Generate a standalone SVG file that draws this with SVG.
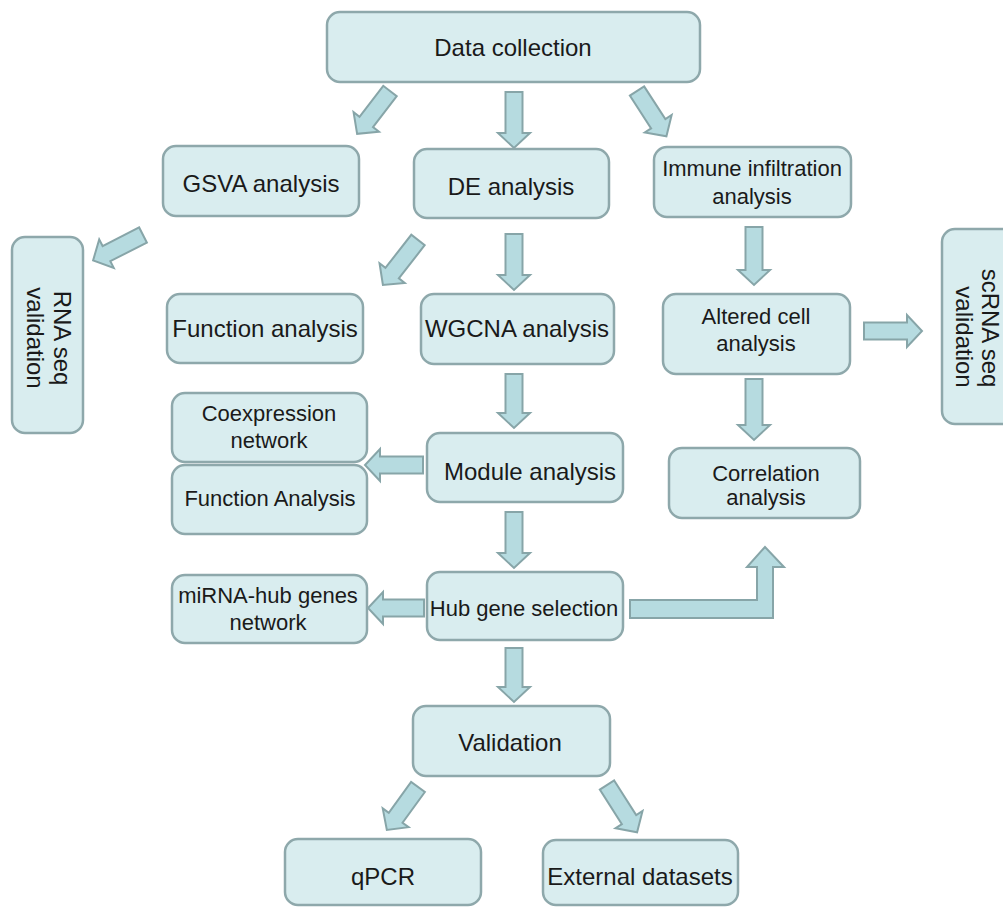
<svg xmlns="http://www.w3.org/2000/svg" width="1003" height="907" viewBox="0 0 1003 907">
<style>
.n{fill:#d9edef;stroke:#8ea8ab;stroke-width:2.5}
.a{fill:#b6dbe0;stroke:#87a5a8;stroke-width:2;stroke-linejoin:miter}
text{font-family:"Liberation Sans",Arial,sans-serif;font-size:24px;fill:#1a1a1a;text-anchor:middle}
.s22{font-size:22px}
</style>
<rect width="1003" height="907" fill="#ffffff"/>
<g id="connectors">
<path class="a" transform="translate(390,91) rotate(127.5)" d="M0,-8.5 H39 V-16 L54,0 L39,16 V8.5 H0 Z"/>
<path class="a" transform="translate(514,92) rotate(90)" d="M0,-8.5 H41 V-16 L56,0 L41,16 V8.5 H0 Z"/>
<path class="a" transform="translate(637,91) rotate(57)" d="M0,-8.5 H39 V-16 L54,0 L39,16 V8.5 H0 Z"/>
<path class="a" transform="translate(143,235) rotate(153)" d="M0,-8.5 H41 V-16 L56,0 L41,16 V8.5 H0 Z"/>
<path class="a" transform="translate(418,240) rotate(128)" d="M0,-8.5 H42 V-16 L57,0 L42,16 V8.5 H0 Z"/>
<path class="a" transform="translate(514,234) rotate(90)" d="M0,-8.5 H41 V-16 L56,0 L41,16 V8.5 H0 Z"/>
<path class="a" transform="translate(754,227) rotate(90)" d="M0,-8.5 H43 V-16 L58,0 L43,16 V8.5 H0 Z"/>
<path class="a" transform="translate(864,331) rotate(0)" d="M0,-8.5 H43 V-16 L58,0 L43,16 V8.5 H0 Z"/>
<path class="a" transform="translate(754,379) rotate(90)" d="M0,-8.5 H46 V-16 L61,0 L46,16 V8.5 H0 Z"/>
<path class="a" transform="translate(514,374) rotate(90)" d="M0,-8.5 H39 V-16 L54,0 L39,16 V8.5 H0 Z"/>
<path class="a" transform="translate(423,465) rotate(180)" d="M0,-8.5 H43 V-16 L58,0 L43,16 V8.5 H0 Z"/>
<path class="a" transform="translate(514,512) rotate(90)" d="M0,-8.5 H41 V-16 L56,0 L41,16 V8.5 H0 Z"/>
<path class="a" transform="translate(424,608) rotate(180)" d="M0,-8.5 H41 V-16 L56,0 L41,16 V8.5 H0 Z"/>
<path class="a" d="M630,600 H757 V567 H747 L765,547 L784,567 H773 V618 H630 Z"/>
<path class="a" transform="translate(514,648) rotate(90)" d="M0,-8.5 H39 V-16 L54,0 L39,16 V8.5 H0 Z"/>
<path class="a" transform="translate(418,787) rotate(126)" d="M0,-8.5 H38 V-16 L53,0 L38,16 V8.5 H0 Z"/>
<path class="a" transform="translate(607,785) rotate(57.5)" d="M0,-8.5 H41 V-16 L56,0 L41,16 V8.5 H0 Z"/>
</g>
<g id="data-collection"><rect class="n" x="327" y="12" width="373" height="70" rx="13"/><text x="513" y="56">Data collection</text></g>
<g id="gsva"><rect class="n" x="163" y="146" width="196" height="70" rx="13"/><text x="261" y="192">GSVA analysis</text></g>
<g id="de"><rect class="n" x="414" y="149" width="195" height="69" rx="13"/><text x="511" y="195">DE analysis</text></g>
<g id="immune"><rect class="n" x="654" y="147" width="197" height="70" rx="13"/><text class="s22" x="752" y="176">Immune infiltration</text><text class="s22" x="752" y="204">analysis</text></g>
<g id="rna-seq"><rect class="n" x="12" y="237" width="71" height="196" rx="13"/><text transform="rotate(90,54,338)" x="54" y="338">RNA seq</text><text transform="rotate(90,27,338)" x="27" y="338">validation</text></g>
<g id="function"><rect class="n" x="167" y="294" width="196" height="69" rx="13"/><text x="265" y="337">Function analysis</text></g>
<g id="wgcna"><rect class="n" x="421" y="294" width="193" height="70" rx="13"/><text x="517" y="337">WGCNA analysis</text></g>
<g id="altered"><rect class="n" x="663" y="294" width="187" height="80" rx="13"/><text class="s22" x="756" y="324">Altered cell</text><text class="s22" x="756" y="351">analysis</text></g>
<g id="scrna"><rect class="n" x="942" y="229" width="80" height="195" rx="13"/><text transform="rotate(90,982,328)" x="982" y="328">scRNA seq</text><text transform="rotate(90,956,337)" x="956" y="337">validation</text></g>
<g id="coexpression"><rect class="n" x="172" y="393" width="195" height="69" rx="13"/><text class="s22" x="269" y="421">Coexpression</text><text class="s22" x="269" y="448">network</text></g>
<g id="function-analysis"><rect class="n" x="172" y="465" width="195" height="69" rx="13"/><text class="s22" x="270" y="506">Function Analysis</text></g>
<g id="module"><rect class="n" x="427" y="433" width="196" height="69" rx="13"/><text x="530" y="480">Module analysis</text></g>
<g id="hub"><rect class="n" x="427" y="572" width="196" height="68" rx="13"/><text class="s22" x="524" y="616">Hub gene selection</text></g>
<g id="mirna"><rect class="n" x="172" y="575" width="195" height="68" rx="13"/><text class="s22" x="268" y="603">miRNA-hub genes</text><text class="s22" x="268" y="630">network</text></g>
<g id="correlation"><rect class="n" x="669" y="448" width="191" height="70" rx="13"/><text class="s22" x="766" y="481">Correlation</text><text class="s22" x="766" y="505">analysis</text></g>
<g id="validation"><rect class="n" x="413" y="706" width="197" height="70" rx="13"/><text x="510" y="751">Validation</text></g>
<g id="qpcr"><rect class="n" x="285" y="839" width="196" height="66" rx="13"/><text x="383" y="885">qPCR</text></g>
<g id="external"><rect class="n" x="543" y="840" width="195" height="65" rx="13"/><text x="640" y="885">External datasets</text></g>
</svg>
